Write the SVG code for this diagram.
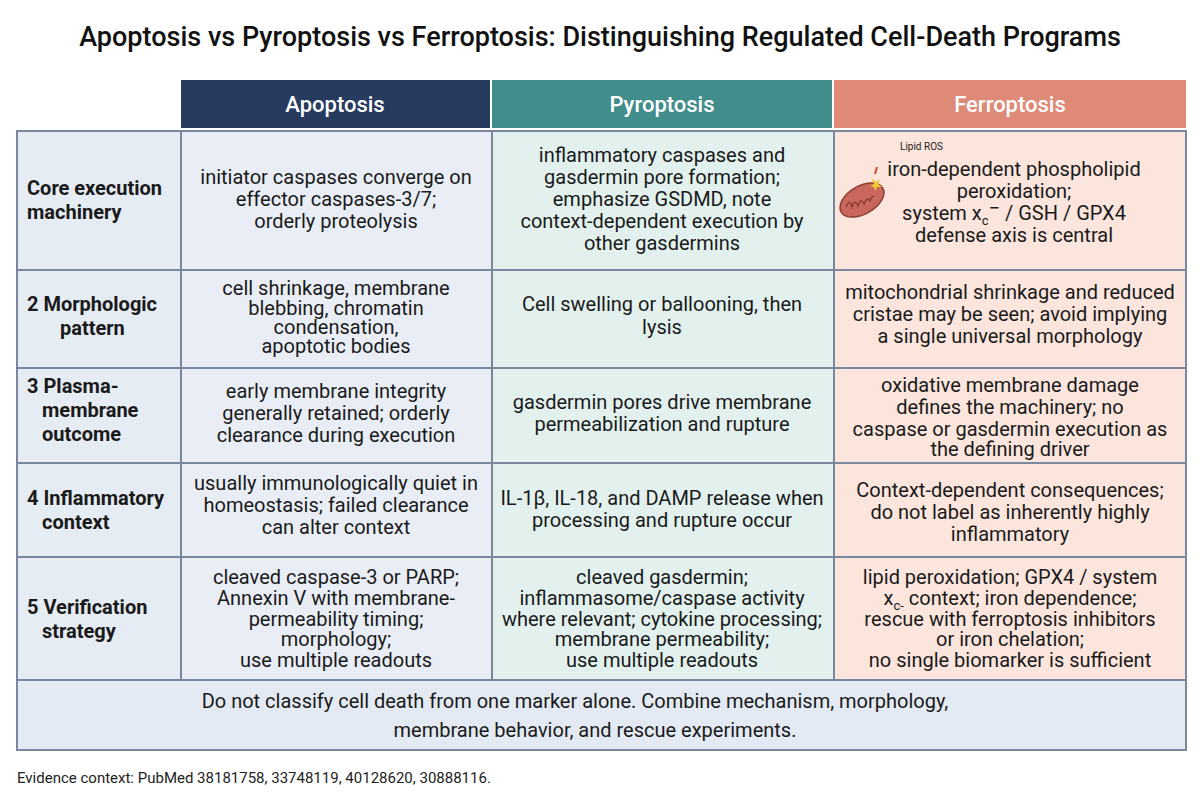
<svg xmlns="http://www.w3.org/2000/svg" width="1200" height="805" viewBox="0 0 1200 805">
<style>
.t{font-family:Roboto,"Liberation Sans",sans-serif;fill:#1a1a1a;text-anchor:middle;font-size:20px}
.l{font-family:Roboto,"Liberation Sans",sans-serif;fill:#1a1a1a;font-weight:bold;font-size:20px}
.h{font-family:Roboto,"Liberation Sans",sans-serif;fill:#fff;text-anchor:middle;font-size:22px;font-weight:500}
.b{stroke:#7b879c;stroke-width:2}
.a{fill:#e9eef6}.p{fill:#e2f1ee}.f{fill:#fbe5dd}.g{fill:#e6ecf4}
</style>
<rect width="1200" height="805" fill="#fff"/>
<text x="600" y="46" font-family="Roboto,'Liberation Sans',sans-serif" font-size="27" font-weight="500" text-anchor="middle" fill="#111">Apoptosis vs Pyroptosis vs Ferroptosis: Distinguishing Regulated Cell-Death Programs</text>
<g id="headers">
<rect x="181" y="80" width="309" height="48" fill="#263b5e"/>
<text class="h" x="335" y="112">Apoptosis</text>
<rect x="492" y="80" width="340" height="48" fill="#418d8c"/>
<text class="h" x="662" y="112">Pyroptosis</text>
<rect x="834" y="80" width="352" height="48" fill="#de8a77"/>
<text class="h" x="1010" y="112">Ferroptosis</text>
</g>
<g id="grid">
<rect class="g b" x="17" y="131" width="164" height="549"/>
<rect class="a b" x="181" y="131" width="311" height="549"/>
<rect class="p b" x="492" y="131" width="342" height="549"/>
<rect class="f b" x="834" y="131" width="352" height="549"/>
<path class="b" d="M17 270H1186M17 368H1186M17 463H1186M17 557H1186"/>
<rect class="b" x="17" y="680" width="1169" height="70" fill="#e3eaf3"/>
</g>
<g id="row1">
<text class="l" x="27" y="195">Core execution</text><text class="l" x="27" y="219">machinery</text>
<text class="t" x="336" y="184">initiator caspases converge on</text><text class="t" x="336" y="206">effector caspases-3/7;</text><text class="t" x="336" y="228">orderly proteolysis</text>
<text class="t" x="662" y="162">inflammatory caspases and</text><text class="t" x="662" y="184">gasdermin pore formation;</text><text class="t" x="662" y="206">emphasize GSDMD, note</text><text class="t" x="662" y="228">context-dependent execution by</text><text class="t" x="662" y="250">other gasdermins</text>
<text x="900" y="150" font-family="Roboto,'Liberation Sans',sans-serif" font-size="10" fill="#222">Lipid ROS</text>
<g id="mito">
<ellipse cx="862" cy="200" rx="24" ry="14" transform="rotate(-30 862 200)" fill="#c9675c" stroke="#8e3c34" stroke-width="1.5"/>
<path d="M846 207q4-9 6 0q3-9 6-1q3-9 6-2q3-8 6-3q2-6 4-4" fill="none" stroke="#8e3c34" stroke-width="1.5"/>
<path d="M872 178l4 4 4-3-2 5 4 3-5 0-2 4-1-4-4-1 4-2z" fill="#f3c530"/>
<path d="M875 174l2-7" stroke="#d9432f" stroke-width="2"/>
</g>
<text class="t" x="1014" y="176">iron-dependent phospholipid</text><text class="t" x="1014" y="198">peroxidation;</text><text class="t" x="1014" y="220">system x<tspan font-size="13" dy="5">c</tspan><tspan dy="-10">−</tspan><tspan dy="5"> / GSH / GPX4</tspan></text><text class="t" x="1014" y="242">defense axis is central</text>
</g>
<g id="row2">
<text class="l" x="27" y="311">2 Morphologic</text><text class="l" x="60" y="335">pattern</text>
<text class="t" x="336" y="295">cell shrinkage, membrane</text><text class="t" x="336" y="315">blebbing, chromatin</text><text class="t" x="336" y="334">condensation,</text><text class="t" x="336" y="353">apoptotic bodies</text>
<text class="t" x="662" y="311">Cell swelling or ballooning, then</text><text class="t" x="662" y="334">lysis</text>
<text class="t" x="1010" y="299">mitochondrial shrinkage and reduced</text><text class="t" x="1010" y="321">cristae may be seen; avoid implying</text><text class="t" x="1010" y="343">a single universal morphology</text>
</g>
<g id="row3">
<text class="l" x="27" y="393">3 Plasma-</text><text class="l" x="42" y="417">membrane</text><text class="l" x="42" y="441">outcome</text>
<text class="t" x="336" y="398">early membrane integrity</text><text class="t" x="336" y="420">generally retained; orderly</text><text class="t" x="336" y="442">clearance during execution</text>
<text class="t" x="662" y="409">gasdermin pores drive membrane</text><text class="t" x="662" y="431">permeabilization and rupture</text>
<text class="t" x="1010" y="392">oxidative membrane damage</text><text class="t" x="1010" y="414">defines the machinery; no</text><text class="t" x="1010" y="436">caspase or gasdermin execution as</text><text class="t" x="1010" y="456">the defining driver</text>
</g>
<g id="row4">
<text class="l" x="27" y="505">4 Inflammatory</text><text class="l" x="42" y="529">context</text>
<text class="t" x="336" y="490">usually immunologically quiet in</text><text class="t" x="336" y="512">homeostasis; failed clearance</text><text class="t" x="336" y="534">can alter context</text>
<text class="t" x="662" y="505">IL-1β, IL-18, and DAMP release when</text><text class="t" x="662" y="527">processing and rupture occur</text>
<text class="t" x="1010" y="497">Context-dependent consequences;</text><text class="t" x="1010" y="519">do not label as inherently highly</text><text class="t" x="1010" y="541">inflammatory</text>
</g>
<g id="row5">
<text class="l" x="27" y="614">5 Verification</text><text class="l" x="42" y="638">strategy</text>
<text class="t" x="336" y="584">cleaved caspase-3 or PARP;</text><text class="t" x="336" y="605">Annexin V with membrane-</text><text class="t" x="336" y="626">permeability timing;</text><text class="t" x="336" y="646">morphology;</text><text class="t" x="336" y="667">use multiple readouts</text>
<text class="t" x="662" y="584">cleaved gasdermin;</text><text class="t" x="662" y="605">inflammasome/caspase activity</text><text class="t" x="662" y="626">where relevant; cytokine processing;</text><text class="t" x="662" y="646">membrane permeability;</text><text class="t" x="662" y="667">use multiple readouts</text>
<text class="t" x="1010" y="584">lipid peroxidation; GPX4 / system</text><text class="t" x="1010" y="605">x<tspan font-size="13" dy="5">c-</tspan><tspan dy="-5"> context; iron dependence;</tspan></text><text class="t" x="1010" y="626">rescue with ferroptosis inhibitors</text><text class="t" x="1010" y="646">or iron chelation;</text><text class="t" x="1010" y="667">no single biomarker is sufficient</text>
</g>
<g id="footer">
<text class="t" x="575" y="708" font-size="22">Do not classify cell death from one marker alone. Combine mechanism, morphology,</text>
<text class="t" x="595" y="737" font-size="22">membrane behavior, and rescue experiments.</text>
</g>
<text x="17" y="783" font-family="Roboto,'Liberation Sans',sans-serif" font-size="15" fill="#222">Evidence context: PubMed 38181758, 33748119, 40128620, 30888116.</text>
</svg>
